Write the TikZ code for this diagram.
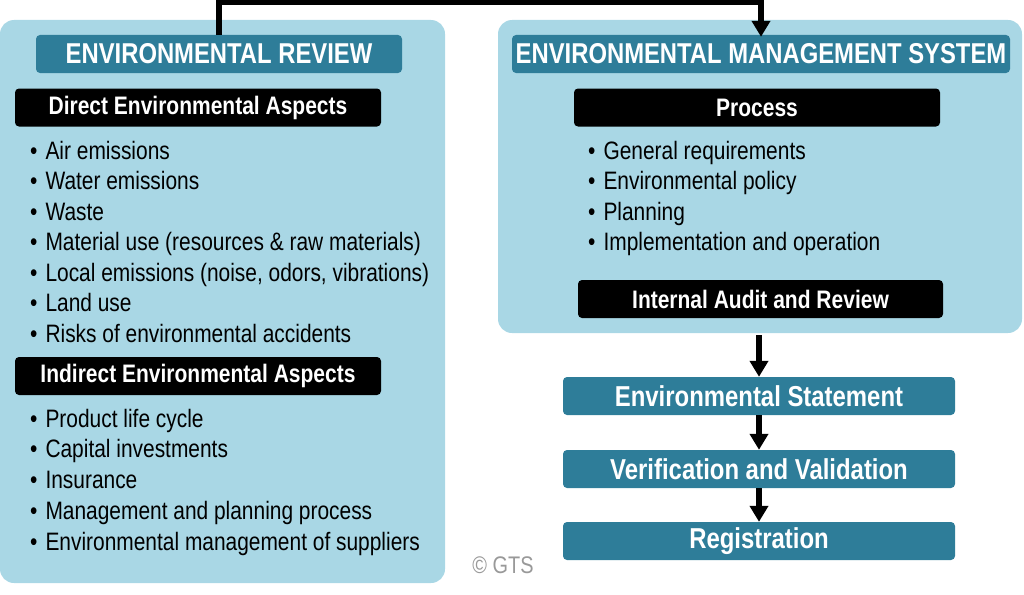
\documentclass[tikz,border=0pt]{standalone}
\usepackage{fontspec}
\setmainfont[FakeStretch=0.83]{Liberation Sans}
\usetikzlibrary{arrows.meta}
\definecolor{panelblue}{HTML}{A9D7E5}
\definecolor{headteal}{HTML}{2E7D99}
\tikzset{
    panel/.style={fill=panelblue, rounded corners=14pt, inner sep=0pt},
    head/.style={fill=headteal, text=white, rounded corners=4pt, inner sep=0pt, minimum height=38pt, font=\fontsize{28.7}{30}\selectfont\bfseries},
    flow/.style={fill=headteal, text=white, rounded corners=4pt, inner sep=0pt, minimum width=392pt, minimum height=38pt, font=\fontsize{28.8}{30}\selectfont\bfseries},
    tag/.style={fill=black, text=white, rounded corners=4pt, inner sep=0pt, minimum width=366pt, minimum height=38pt, font=\fontsize{25.3}{27}\selectfont\bfseries},
    item/.style={anchor=west, inner sep=0pt, text height=18pt, text depth=6pt, font=\fontsize{25.2}{27}\selectfont},
    conn/.style={line width=5.5pt, -{Triangle[length=16pt, width=18pt]}}
}
\newcommand{\pt}{•\hspace{8pt}}

\begin{document}
\begin{tikzpicture}[x=1pt, y=-1pt]
    \useasboundingbox (0, 0) rectangle (1024, 594);
    % panels
    \node[panel, minimum width=445pt, minimum height=563pt] (revpanel) at (222.5, 301.5) {};
    \node[panel, minimum width=524pt, minimum height=313pt] (emspanel) at (760, 176.5) {};
    % environmental review
    \node[head, minimum width=366pt] (rev) at (219, 54) {ENVIRONMENTAL REVIEW};
    \node[tag] (direct) at (198, 107.5) {Direct Environmental Aspects};
    \foreach \t [count=\i] in {Air emissions, Water emissions, Waste, {Material use (resources \& raw materials)}, {Local emissions (noise, odors, vibrations)}, Land use, Risks of environmental accidents}
        \node[item] (d\i) at (30, 122.5+30.5*\i) {\pt\t};
    \node[tag] (indirect) at (198, 376) {Indirect Environmental Aspects};
    \foreach \t [count=\i] in {Product life cycle, Capital investments, Insurance, Management and planning process, Environmental management of suppliers}
        \node[item] (n\i) at (30, 390.5+30.7*\i) {\pt\t};
    % environmental management system
    \node[head, minimum width=498pt] (ems) at (761, 54) {ENVIRONMENTAL MANAGEMENT SYSTEM};
    \node[tag] (proc) at (757, 107.5) {Process};
    \foreach \t [count=\i] in {General requirements, Environmental policy, Planning, Implementation and operation}
        \node[item] (p\i) at (588, 122.5+30.5*\i) {\pt\t};
    \node[tag, minimum width=365pt] (audit) at (760.5, 299) {Internal Audit and Review};
    % steps
    \node[flow] (stmt) at (759, 396) {Environmental Statement};
    \node[flow] (verif) at (759, 469) {Verification and Validation};
    \node[flow] (reg) at (759, 541) {Registration};
    \node[text=gray!80, font=\fontsize{24}{26}\selectfont] (copy) at (503, 565) {© GTS};
    % connectors
    \draw[conn] (rev.north) -- ++(0, -32.3) -| ([yshift=-2pt]ems.north);
    \draw[conn, shorten <=2pt] (emspanel.south -| stmt.north) -- (stmt.north);
    \draw[conn] (stmt) -- (verif);
    \draw[conn] (verif) -- (reg);
\end{tikzpicture}
\end{document}
